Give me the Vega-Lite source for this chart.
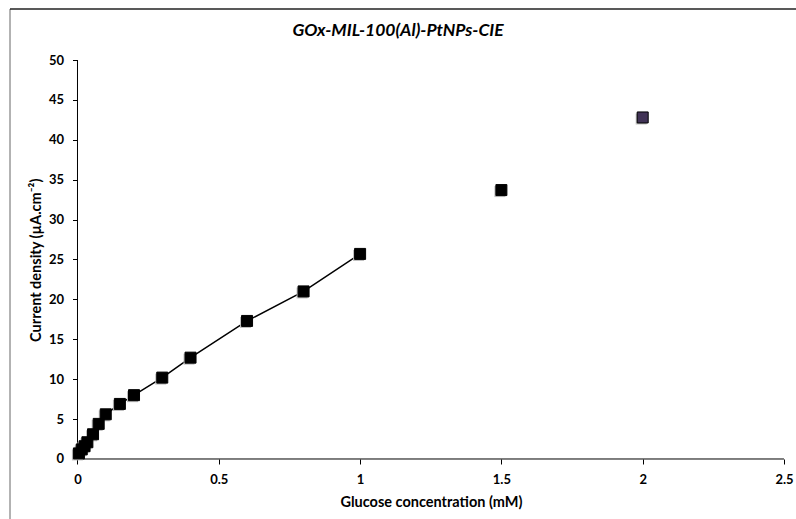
{
  "$schema": "https://vega.github.io/schema/vega-lite/v6.json",
  "autosize": {"type": "none"},
  "padding": {"left": 10, "top": 9, "right": 0, "bottom": 0},
  "width": 786,
  "height": 510,
  "background": "white",
  "config": {"view": {"stroke": null}, "font": "Lato"},
  "title": {
    "text": "GOx-MIL-100(Al)-PtNPs-CIE",
    "font": "Lato",
    "fontSize": 17.5,
    "fontStyle": "italic",
    "fontWeight": "bold",
    "color": "black",
    "anchor": "middle",
    "baseline": "alphabetic",
    "offset": -45,
    "dx": -5
  },
  "datasets": {
    "points": [
      {"x": 0.005, "y": 0.7},
      {"x": 0.015, "y": 1.2},
      {"x": 0.025, "y": 1.6},
      {"x": 0.035, "y": 2.1},
      {"x": 0.055, "y": 3.1},
      {"x": 0.075, "y": 4.4},
      {"x": 0.1, "y": 5.6},
      {"x": 0.15, "y": 6.9},
      {"x": 0.2, "y": 8.0},
      {"x": 0.3, "y": 10.2},
      {"x": 0.4, "y": 12.7},
      {"x": 0.6, "y": 17.3},
      {"x": 0.8, "y": 21.0},
      {"x": 1.0, "y": 25.7},
      {"x": 1.5, "y": 33.7},
      {"x": 2.0, "y": 42.8}
    ],
    "axislines": [
      {"x": 0, "x2": 2.5, "y": 0, "y2": 0},
      {"x": 0, "x2": 0, "y": 0, "y2": 50}
    ],
    "frame": [{"side": "edge"}]
  },
  "layer": [
    {
      "data": {"name": "axislines"},
      "mark": {"type": "rule", "color": "black", "strokeWidth": 1},
      "encoding": {
        "x": {"field": "x", "type": "quantitative", "scale": {"domain": [-0.23885, 2.54247], "nice": false, "zero": false},
          "axis": {
            "orient": "bottom", "offset": -60, "values": [0, 0.5, 1, 1.5, 2, 2.5], "labelExpr": "datum.value",
            "domain": false, "grid": false, "tickSize": 5, "tickColor": "black", "tickWidth": 1,
            "labelFont": "Lato", "labelFontSize": 13, "labelFontWeight": "bold", "labelColor": "black", "labelPadding": 9,
            "labelFlush": false, "labelOverlap": false,
            "title": "Glucose concentration (mM)", "titleFont": "Lato", "titleFontSize": 14.5, "titleFontWeight": "bold", "titleColor": "black",
            "titleX": 421, "titleY": 36, "titleBaseline": "top", "titleAlign": "center", "titleAnchor": null
          }},
        "x2": {"field": "x2"},
        "y": {"field": "y", "type": "quantitative", "scale": {"domain": [-7.519, 56.391], "nice": false, "zero": false},
          "axis": {
            "orient": "left", "offset": -67.5, "values": [0, 5, 10, 15, 20, 25, 30, 35, 40, 45, 50], "labelExpr": "datum.value",
            "domain": false, "grid": false, "tickSize": 5, "tickColor": "black", "tickWidth": 1,
            "labelFont": "Lato", "labelFontSize": 13, "labelFontWeight": "bold", "labelColor": "black", "labelPadding": 9,
            "labelFlush": false, "labelOverlap": false,
            "title": "Current density (µA.cm⁻²)", "titleFont": "Lato", "titleFontSize": 14.5, "titleFontWeight": "bold", "titleColor": "black",
            "titleX": -41, "titleY": 250.75, "titleBaseline": "middle", "titleAlign": "center", "titleAngle": 270, "titleAnchor": null
          }},
        "y2": {"field": "y2"}
      }
    },
    {
      "data": {"name": "frame"},
      "mark": {"type": "rule", "color": "#666666", "strokeWidth": 1},
      "encoding": {"x": {"datum": -0.23885, "type": "quantitative"}}
    },
    {
      "data": {"name": "frame"},
      "mark": {"type": "rule", "color": "#222222", "strokeWidth": 1.5},
      "encoding": {"y": {"datum": 56.391, "type": "quantitative"}}
    },
    {
      "data": {"name": "points"},
      "transform": [{"filter": "datum.x <= 1"}],
      "mark": {"type": "line", "color": "black", "strokeWidth": 1.5},
      "encoding": {
        "x": {"field": "x", "type": "quantitative"},
        "y": {"field": "y", "type": "quantitative"}
      }
    },
    {
      "data": {"name": "points"},
      "mark": {"type": "point", "shape": "square", "filled": true, "size": 121, "color": "#bbbbbb", "opacity": 1, "xOffset": -1.5, "yOffset": 1.5},
      "encoding": {
        "x": {"field": "x", "type": "quantitative"},
        "y": {"field": "y", "type": "quantitative"}
      }
    },
    {
      "data": {"name": "points"},
      "mark": {"type": "point", "shape": "square", "filled": true, "size": 121, "stroke": "black", "strokeWidth": 1, "opacity": 1},
      "encoding": {
        "x": {"field": "x", "type": "quantitative"},
        "y": {"field": "y", "type": "quantitative"},
        "fill": {"condition": {"test": "datum.x == 2", "value": "#413356"}, "value": "black"}
      }
    }
  ]
}
